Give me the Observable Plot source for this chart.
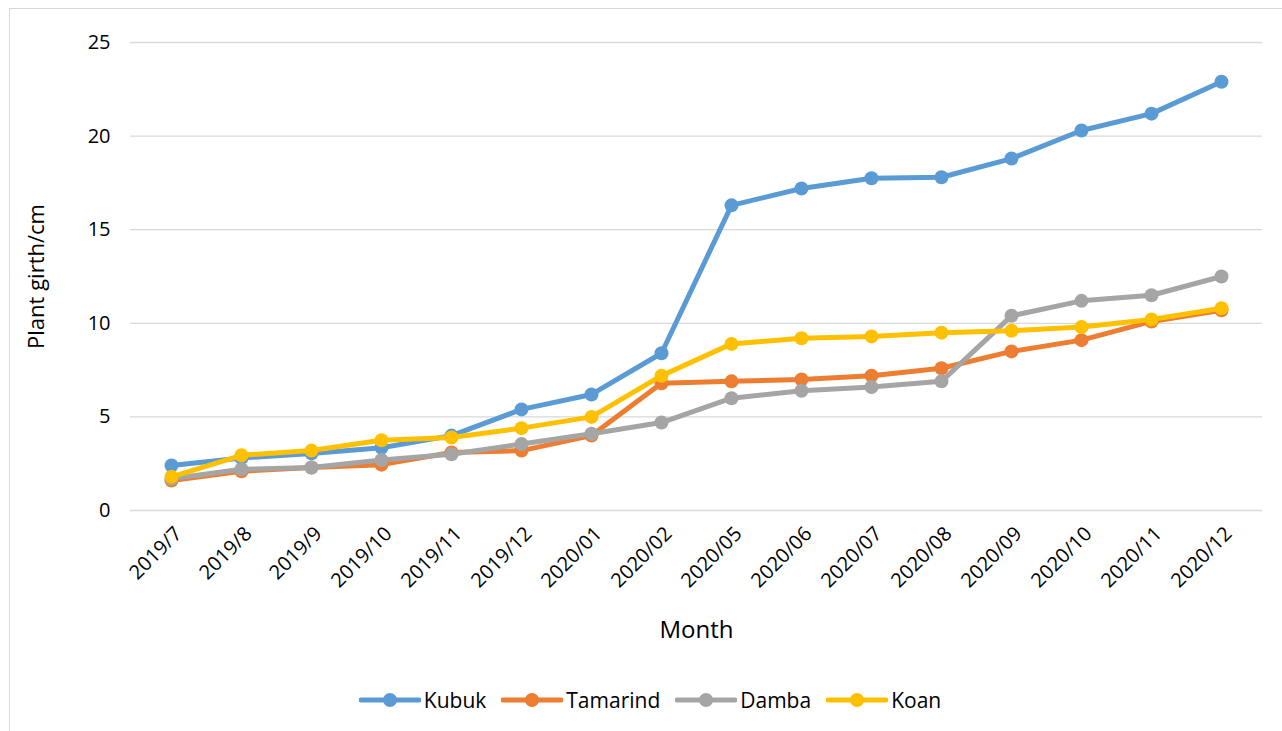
<!DOCTYPE html>
<html><head><meta charset="utf-8">
<script src="https://cdn.jsdelivr.net/npm/d3@7"></script>
<script src="https://cdn.jsdelivr.net/npm/@observablehq/plot@0.6"></script>
<style>
body{margin:0;background:#fff;font-family:"Open Sans",sans-serif;}
#wrap{position:relative;width:1282px;height:731px;overflow:hidden}
#frame{position:absolute;left:9px;top:8px;width:1290px;height:740px;border:1.5px solid #d9d9d9;box-sizing:border-box}
#chart{position:absolute;left:0;top:0}
#legend{position:absolute;left:0;top:686px;width:1300px;display:flex;justify-content:center;gap:15px;font-size:21px;color:#000}
.item{display:flex;align-items:center;gap:3px}
</style></head><body>
<div id="wrap"><div id="frame"></div><div id="chart"></div><div id="legend"></div></div>
<script>
const months = ["2019/7","2019/8","2019/9","2019/10","2019/11","2019/12","2020/01","2020/02","2020/05","2020/06","2020/07","2020/08","2020/09","2020/10","2020/11","2020/12"];
const seriesNames = ["Kubuk","Tamarind","Damba","Koan"];
const seriesColors = ["#5B9BD5","#ED7D31","#A5A5A5","#FFC000"];
const kubuk    = [2.4,2.8,3.05,3.35,4.0,5.4,6.2,8.4,16.3,17.2,17.75,17.8,18.8,20.3,21.2,22.9];
const tamarind = [1.6,2.1,2.3,2.45,3.1,3.2,4.0,6.8,6.9,7.0,7.2,7.6,8.5,9.1,10.1,10.7];
const damba    = [1.7,2.2,2.3,2.7,3.0,3.55,4.1,4.7,6.0,6.4,6.6,6.9,10.4,11.2,11.5,12.5];
const koan     = [1.8,2.95,3.2,3.75,3.9,4.4,5.0,7.2,8.9,9.2,9.3,9.5,9.6,9.8,10.2,10.8];
const yTicks = [0,5,10,15,20,25];

const seriesValues = [kubuk,tamarind,damba,koan];
const data = [];
seriesNames.forEach((s,i)=>months.forEach((m,j)=>data.push({series:s,month:m,value:seriesValues[i][j]})));

const marks = [
  Plot.gridY(yTicks,{stroke:"#d9d9d9",strokeOpacity:1,strokeWidth:1.3}),
  Plot.axisY(yTicks,{tickSize:0,tickPadding:20,fontSize:20,fill:"#000",label:null}),
  Plot.axisX({tickSize:0,tickRotate:-45,tickPadding:20,dx:7,fontSize:20,fill:"#000",label:null}),
  Plot.text(["Month"],{frameAnchor:"bottom",dy:127,fontSize:24,fill:"#000"}),
  Plot.text(["Plant girth/cm"],{frameAnchor:"left",dx:-94,rotate:-90,textAnchor:"middle",fontSize:22,fill:"#000"})
];
seriesNames.forEach((s,i)=>{
  const d = data.filter(r=>r.series===s);
  marks.push(Plot.line(d,{x:"month",y:"value",stroke:seriesColors[i],strokeWidth:5}));
  marks.push(Plot.dot(d,{x:"month",y:"value",fill:seriesColors[i],r:7}));
});

const chart = Plot.plot({
  width:1282,height:665,
  marginTop:42,marginBottom:155,marginLeft:130,marginRight:20,
  x:{type:"band",domain:months,padding:0},
  y:{domain:[0,25]},
  style:{fontFamily:"'Open Sans', sans-serif",fontSize:"20px",background:"transparent",overflow:"visible"},
  marks
});
document.getElementById("chart").appendChild(chart);

const leg = document.getElementById("legend");
seriesNames.forEach((s,i)=>{
  const it=document.createElement("div");it.className="item";
  it.innerHTML=`<svg width="62" height="16"><line x1="2" y1="8" x2="60" y2="8" stroke="${seriesColors[i]}" stroke-width="5" stroke-linecap="round"/><circle cx="31" cy="8" r="7" fill="${seriesColors[i]}"/></svg><span>${s}</span>`;
  leg.appendChild(it);
});
</script></body></html>
